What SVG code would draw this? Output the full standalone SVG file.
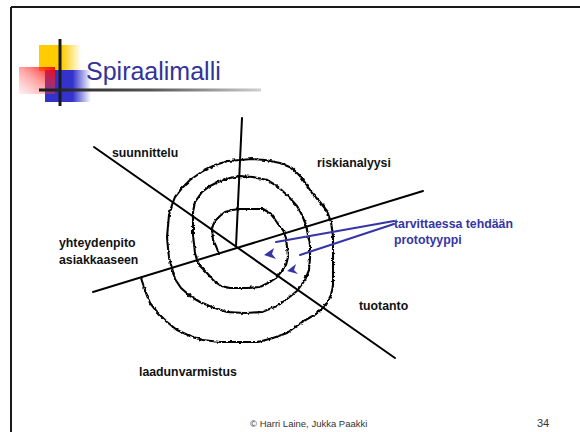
<svg xmlns="http://www.w3.org/2000/svg" width="580" height="432" viewBox="0 0 580 432">
  <style>
    .lbl { font-family: "Liberation Sans", Arial, sans-serif; font-weight: bold; font-size: 12.3px; fill: #111; }
    .note { font-family: "Liberation Sans", Arial, sans-serif; font-weight: bold; font-size: 12.3px; fill: #3535a3; }
    .foot { font-family: "Liberation Sans", Arial, sans-serif; fill: #333; }
    .axis { stroke: #000; stroke-width: 2; fill: none; stroke-linecap: round; }
    .spiral { stroke: #000; stroke-width: 2.1; fill: none; stroke-linejoin: round; stroke-linecap: round; }
    .ptr { stroke: #3535a3; stroke-width: 2; fill: none; stroke-linecap: round; }
    .head { fill: #3535a3; }
  </style>
  <defs>
    <linearGradient id="gYellow" x1="0" y1="0" x2="1" y2="0">
      <stop offset="0" stop-color="#ffcc00"/>
      <stop offset="0.55" stop-color="#ffcc00"/>
      <stop offset="1" stop-color="#ffcc00" stop-opacity="0"/>
    </linearGradient>
    <linearGradient id="gBlue" x1="0" y1="0" x2="1" y2="0">
      <stop offset="0" stop-color="#3333cc"/>
      <stop offset="0.6" stop-color="#3333cc"/>
      <stop offset="1" stop-color="#3333cc" stop-opacity="0"/>
    </linearGradient>
    <linearGradient id="gRed" x1="1" y1="0" x2="0" y2="1">
      <stop offset="0" stop-color="#ff0000" stop-opacity="0.95"/>
      <stop offset="0.5" stop-color="#ff3333" stop-opacity="0.45"/>
      <stop offset="1" stop-color="#ff6666" stop-opacity="0.1"/>
    </linearGradient>
    <linearGradient id="gRule" x1="0" y1="0" x2="1" y2="0">
      <stop offset="0" stop-color="#1a1a1a"/>
      <stop offset="0.5" stop-color="#555"/>
      <stop offset="1" stop-color="#d0d0d0"/>
    </linearGradient>
    <!-- slight hand-drawn wobble for the spiral stroke -->
    <filter id="rough" filterUnits="userSpaceOnUse" x="120" y="140" width="240" height="220">
      <feTurbulence type="fractalNoise" baseFrequency="0.3" numOctaves="2" seed="5" result="n"/>
      <feDisplacementMap in="SourceGraphic" in2="n" scale="3" xChannelSelector="R" yChannelSelector="G"/>
    </filter>
  </defs>

  <rect width="580" height="432" fill="#fff"/>

  <!-- slide frame -->
  <g id="frame" stroke="#1a1a1a" stroke-width="2" fill="none">
    <line x1="11" y1="7" x2="580" y2="7"/>
    <line x1="11" y1="7" x2="11" y2="432"/>
  </g>

  <!-- title emblem -->
  <g id="emblem">
    <rect x="39" y="45" width="42" height="26" fill="url(#gYellow)"/>
    <rect x="45" y="70" width="46" height="32" fill="url(#gBlue)"/>
    <rect x="19" y="67" width="36" height="27" fill="url(#gRed)"/>
    <line x1="60" y1="39" x2="60" y2="106" stroke="#1a1a1a" stroke-width="3"/>
    <rect x="39" y="88.5" width="222" height="3" fill="url(#gRule)"/>
  </g>

  <g id="title">
    <text x="86" y="80" font-family="'Liberation Sans', Arial, sans-serif" font-size="25" fill="#33339a">Spiraalimalli</text>
  </g>

  <!-- quadrant axes -->
  <g id="connectors">
    <line class="axis" x1="242" y1="118" x2="236" y2="246"/>
    <line class="axis" x1="94" y1="147" x2="395" y2="358"/>
    <line class="axis" x1="93" y1="292" x2="423" y2="191"/>
  </g>

  <!-- spiral: inner start near the centre, winding outwards -->
  <g id="spiral" filter="url(#rough)">
    <polyline class="spiral" points="219,254 216,246 213,240 212,228 215,221 220,216 225,212 232,210 240,209 252,209 263,209 270,213 274,218 278,224 283,230 286,238 287,247 288,257 286,265 281,272 276,278 270,282 260,287 247,288 230,288 221,286 214,281 207,273 200,266 197,260 195,253 194,244 193,235 193,222 193,212 195,202 202,192 210,186 218,182 230,178 240,176 253,177 267,180 277,186 287,195 297,206 302,215 306,225 308,235 310,245 310,258 309,270 305,280 297,291 287,299 277,306 262,312 245,313 227,312 212,307 200,302 190,296 181,288 175,279 172,268 169,258 168,248 167,237 168,226 169,215 172,205 175,197 182,188 190,180 203,171 215,165 228,161 240,160 252,159 265,160 280,163 292,168 300,176 306,184 312,193 320,202 327,211 331,222 333,236 333,250 333,265 333,285 331,295 326,305 316,314 302,322 287,333 273,338 258,342 240,342 220,342 203,340 190,336 177,330 167,322 158,313 150,303 146,293 143,284 141,278"/>
  </g>

  <!-- phase labels -->
  <g id="suunnittelu"><text class="lbl" x="112" y="157">suunnittelu</text></g>
  <g id="riskianalyysi"><text class="lbl" x="317" y="167">riskianalyysi</text></g>
  <g id="yhteydenpito">
    <text class="lbl" x="59" y="247">yhteydenpito</text>
    <text class="lbl" x="59" y="263.5">asiakkaaseen</text>
  </g>
  <g id="tuotanto"><text class="lbl" x="359" y="310">tuotanto</text></g>
  <g id="laadunvarmistus"><text class="lbl" x="139" y="376">laadunvarmistus</text></g>

  <!-- prototype note with pointers -->
  <g id="prototyyppi">
    <text class="note" x="394" y="228">tarvittaessa tehdään</text>
    <text class="note" x="394" y="244">prototyyppi</text>
    <line class="ptr" x1="394" y1="221" x2="276" y2="242"/>
    <line class="ptr" x1="394" y1="224" x2="300" y2="255"/>
    <polygon class="head" points="264,255 274,248 272,254 276,259"/>
    <polygon class="head" points="287,271 296,264 294,270 298,274"/>
  </g>

  <g id="footer">
    <text class="foot" x="250" y="427" font-size="9.5">© Harri Laine, Jukka Paakki</text>
    <text class="foot" x="537" y="427" font-size="11">34</text>
  </g>
</svg>
